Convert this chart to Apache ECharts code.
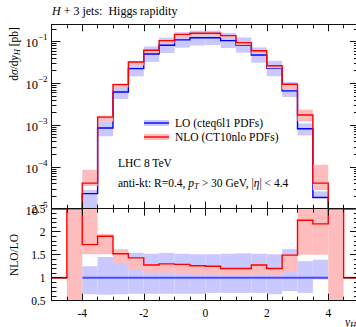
<!DOCTYPE html>
<html><head><meta charset="utf-8">
<script src="https://cdn.jsdelivr.net/npm/echarts@6/dist/echarts.min.js"></script>
<style>html,body{margin:0;padding:0;background:#fff}#c{width:356px;height:327px}</style>
</head><body><div id="c"></div>
<script>
// ---- data (bins of Higgs rapidity y_H) ----
const binEdges = [-5,-4.5,-4,-3.5,-3,-2.5,-2,-1.5,-1,-0.5,0,0.5,1,1.5,2,2.5,3,3.5,4,4.5,5];
// main panel: dsigma/dy_H [pb]
const loValues   = [0,0,2.3e-5,8.5e-4,6.2e-3,0.0224,0.050,0.081,0.109,0.123,0.123,0.105,0.082,0.0476,0.0229,6.6e-3,8.2e-4,1.86e-5,0,0];
const nloValues  = [0,0,4.1e-5,1.55e-3,9.3e-3,0.0324,0.0616,0.105,0.148,0.157,0.157,0.138,0.094,0.060,0.0263,9.5e-3,1.74e-3,4.1e-5,0,0];
const loBandLow  = [null,null,5e-6,5.4e-4,4.2e-3,0.0146,0.0325,0.053,0.071,0.080,0.082,0.070,0.054,0.031,0.0147,4.7e-3,5.7e-4,1.8e-5,null,null];
const loBandHigh = [null,null,2.8e-5,1.23e-3,9.0e-3,0.0345,0.076,0.123,0.166,0.182,0.182,0.160,0.125,0.072,0.0346,0.0107,1.1e-3,2.6e-5,null,null];
const nloBandLow = [null,null,3.5e-5,1.23e-3,8.0e-3,0.0267,0.0536,0.0897,0.125,0.133,0.134,0.122,0.083,0.050,0.0228,7.1e-3,1.23e-3,2.8e-5,null,null];
const nloBandHigh= [null,null,8.5e-5,1.68e-3,9.9e-3,0.0324,0.0623,0.105,0.148,0.158,0.158,0.139,0.095,0.060,0.0265,9.6e-3,2.34e-3,1.12e-4,null,null];
// ratio panel: NLO/LO
const ratioNlo        = [1,Infinity,1.72,1.90,1.52,1.43,1.275,1.30,1.29,1.26,1.25,1.20,1.20,1.275,1.20,1.49,2.25,2.17,Infinity,1];
const ratioEdge       = [1,null,null,null,null,null,null,null,null,null,null,null,null,null,null,null,null,null,null,1];
const ratioLo         = [null,null,1,1,1,1,1,1,1,1,1,1,1,1,1,1,1,1,null,null];
const ratioLoBandLow  = [null,null,0.64,0.63,0.64,0.65,0.65,0.65,0.65,0.65,0.67,0.67,0.67,0.67,0.64,0.71,0.67,0.96,null,null];
const ratioLoBandHigh = [null,null,1.25,1.45,1.50,1.54,1.52,1.54,1.52,1.51,1.51,1.52,1.53,1.52,1.51,1.62,1.36,1.39,null,null];
const ratioNloBandLow = [null,0,1.51,1.51,1.30,1.18,1.11,1.11,1.09,1.07,1.07,1.06,1.06,1.07,1.04,1.12,1.50,1.50,0,null];
const ratioNloBandHigh= [null,Infinity,Infinity,1.95,1.62,1.43,1.29,1.30,1.29,1.27,1.26,1.21,1.21,1.28,1.21,1.50,2.85,6,Infinity,null];
// axes ticks
const xMajor = [-4,-2,0,2,4];
const yMainMajor = [1e-5,1e-4,1e-3,1e-2,1e-1];
const ratioTicks = [0.5,1,1.5,2,2.5];

const FONT = 'Liberation Serif';
const MAIN_MIN = 1e-5, MAIN_MAX = 0.2576, R_MIN = 0.5, R_MAX = 2.5;
const BLUE = '#0000ff', RED = '#ff0000', BLUE_BAND = '#c9c9ff', RED_BAND = '#ffbcbc';

const yMainMinor = [];
for (let e = -5; e <= -1; e++) for (let m = 2; m <= 9; m++) { const v = m * Math.pow(10, e); if (v < MAIN_MAX) yMainMinor.push(v); }

function clampF(v, a, b) { return Math.min(Math.max(v, a), b); }

function bandSeries(lowArr, highArr, color, xi, yi, yMin, yMax) {
  const data = [];
  for (let i = 0; i < lowArr.length; i++) if (lowArr[i] !== null) data.push([binEdges[i], binEdges[i+1], lowArr[i], highArr[i]]);
  return {
    type: 'custom', xAxisIndex: xi, yAxisIndex: yi, data: data, silent: true, animation: false,
    encode: { x: [0, 1], y: [2, 3] },
    renderItem: function (params, api) {
      const p0 = api.coord([api.value(0), clampF(api.value(3), yMin, yMax)]);
      const p1 = api.coord([api.value(1), clampF(api.value(2), yMin, yMax)]);
      return { type: 'rect', shape: { x: p0[0], y: p0[1], width: p1[0] - p0[0], height: p1[1] - p0[1] }, style: { fill: color } };
    }
  };
}

function stepSeries(vals, color, width, xi, yi, yMin, yMax) {
  return {
    type: 'custom', xAxisIndex: xi, yAxisIndex: yi, data: [[0, yMin]], silent: true, animation: false,
    renderItem: function (params, api) {
      const segs = []; let cur = [];
      for (let i = 0; i < vals.length; i++) {
        const v = vals[i];
        if (v === null) { if (cur.length) segs.push(cur); cur = []; continue; }
        const cv = clampF(v, yMin, yMax);
        cur.push(api.coord([binEdges[i], cv]), api.coord([binEdges[i+1], cv]));
      }
      if (cur.length) segs.push(cur);
      return { type: 'group', children: segs.map(function (pts) {
        return { type: 'polyline', shape: { points: pts }, style: { stroke: color, lineWidth: width, fill: null, lineJoin: 'miter' } };
      }) };
    }
  };
}

const lineStyle = { color: '#111', width: 1 };
function xAx(grid, pos, major, showLabels) {
  const ax = {
    type: 'value', gridIndex: grid, position: pos, min: -5, max: 5, interval: 0.5, z: 5,
    axisLine: { show: true, onZero: false, lineStyle: lineStyle },
    axisTick: { show: true, inside: true, length: major ? 7 : 4, lineStyle: lineStyle },
    axisLabel: { show: false }, splitLine: { show: false }, minorTick: { show: false }
  };
  if (major) {
    ax.axisTick.customValues = xMajor;
    ax.axisLine = { show: false, onZero: false };
  }
  if (showLabels) {
    ax.axisLabel = { show: true, customValues: xMajor, margin: 6, color: '#000', fontFamily: FONT, fontSize: 11.5 };
  }
  return ax;
}
function yMainAx(pos, major, showLabels) {
  const ax = {
    type: 'log', logBase: 10, gridIndex: 0, position: pos, min: MAIN_MIN, max: MAIN_MAX, z: 5,
    axisLine: { show: major, onZero: false, lineStyle: lineStyle },
    axisTick: { show: true, inside: true, length: major ? 9 : 5, customValues: major ? yMainMajor : yMainMinor, lineStyle: lineStyle },
    axisLabel: { show: false }, splitLine: { show: false }
  };
  if (showLabels) {
    ax.axisLabel = {
      show: true, customValues: yMainMajor, margin: 4,
      formatter: function (v) { return '{b|10}{s|\u2212' + Math.round(-Math.log10(v)) + '}'; },
      rich: {
        b: { fontFamily: FONT, fontSize: 12.5, color: '#000', verticalAlign: 'bottom', lineHeight: 17 },
        s: { fontFamily: FONT, fontSize: 9, color: '#000', verticalAlign: 'top', lineHeight: 10 }
      }
    };
  }
  return ax;
}
function yRatioAx(pos, showLabels) {
  return {
    type: 'value', gridIndex: 1, position: pos, min: R_MIN, max: R_MAX, interval: 0.5, z: 5,
    axisLine: { show: true, onZero: false, lineStyle: lineStyle },
    axisTick: { show: true, inside: true, length: 9, lineStyle: lineStyle },
    minorTick: { show: true, splitNumber: 5, length: 5, lineStyle: lineStyle },
    axisLabel: { show: showLabels, margin: 6, color: '#000', fontFamily: FONT, fontSize: 11.5,
      customValues: ratioTicks, formatter: function (v) { return String(v); } },
    splitLine: { show: false }
  };
}

const chart = echarts.init(document.getElementById('c'), null, { renderer: 'svg', width: 356, height: 327 });

const rich = {
  i: { fontFamily: FONT, fontSize: 11.5, fontStyle: 'italic', color: '#000', lineHeight: 14 },
  sub: { fontFamily: FONT, fontSize: 8.5, fontStyle: 'italic', color: '#000', verticalAlign: 'bottom', lineHeight: 10 }
};
const richT = {
  i: { fontFamily: FONT, fontSize: 12, fontStyle: 'italic', color: '#000', lineHeight: 14 }
};

const option = {
  backgroundColor: '#fff',
  animation: false,
  grid: [
    { left: 51.5, top: 24.3, width: 307.5, height: 184.4, outerBoundsMode: 'none', containLabel: false },
    { left: 51.5, top: 208.7, width: 307.5, height: 92, outerBoundsMode: 'none', containLabel: false }
  ],
  xAxis: [
    xAx(0, 'bottom', false, false), xAx(0, 'bottom', true, false), xAx(0, 'top', false, false), xAx(0, 'top', true, false),
    xAx(1, 'bottom', false, false), xAx(1, 'bottom', true, true), xAx(1, 'top', false, false), xAx(1, 'top', true, false)
  ],
  yAxis: [
    yMainAx('left', true, true), yMainAx('left', false, false), yMainAx('right', true, false), yMainAx('right', false, false),
    yRatioAx('left', true), yRatioAx('right', false)
  ],
  series: [
    bandSeries(loBandLow, loBandHigh, BLUE_BAND, 0, 0, MAIN_MIN, MAIN_MAX),
    stepSeries(loValues, BLUE, 1.4, 0, 0, MAIN_MIN, MAIN_MAX),
    bandSeries(nloBandLow, nloBandHigh, RED_BAND, 0, 0, MAIN_MIN, MAIN_MAX),
    stepSeries(nloValues, RED, 1.4, 0, 0, MAIN_MIN, MAIN_MAX),
    bandSeries(ratioLoBandLow, ratioLoBandHigh, BLUE_BAND, 4, 4, R_MIN, R_MAX),
    stepSeries(ratioLo, '#4a4aff', 2, 4, 4, R_MIN, R_MAX),
    bandSeries(ratioNloBandLow, ratioNloBandHigh, RED_BAND, 4, 4, R_MIN, R_MAX),
    stepSeries(ratioNlo, RED, 1.4, 4, 4, R_MIN, R_MAX),
    stepSeries(ratioEdge, '#7a1414', 1.6, 4, 4, R_MIN, R_MAX)
  ],
  graphic: [
    { type: 'text', left: 52, top: 5, z: 10, style: { text: '{i|H} + 3 jets:  Higgs rapidity', rich: richT, fontFamily: FONT, fontSize: 12, fill: '#000' } },
    { type: 'text', x: 14, y: 54, rotation: Math.PI / 2, z: 10,
      style: { text: 'd{i|\u03c3}/d{i|y}{sub|H} [pb]', rich: rich, fontFamily: FONT, fontSize: 11.5, fill: '#000', align: 'center', verticalAlign: 'middle' } },
    { type: 'text', x: 14, y: 255, rotation: Math.PI / 2, z: 10,
      style: { text: 'NLO/LO', fontFamily: FONT, fontSize: 11.5, fill: '#000', align: 'center', verticalAlign: 'middle' } },
    { type: 'text', x: 345, y: 322, z: 10,
      style: { text: '{i|y}{sub|H}', rich: rich, fontFamily: FONT, fontSize: 11.5, fill: '#000', align: 'left', verticalAlign: 'middle' } },
    // legend
    { type: 'rect', z: 10, shape: { x: 144, y: 120, width: 25, height: 6 }, style: { fill: BLUE_BAND } },
    { type: 'line', z: 11, shape: { x1: 144, y1: 123, x2: 169, y2: 123 }, style: { stroke: BLUE, lineWidth: 1.4 } },
    { type: 'text', x: 175, y: 123, z: 10, style: { text: 'LO (cteq6l1 PDFs)', fontFamily: FONT, fontSize: 11.5, fill: '#000', verticalAlign: 'middle' } },
    { type: 'rect', z: 10, shape: { x: 144, y: 134, width: 25, height: 6 }, style: { fill: RED_BAND } },
    { type: 'line', z: 11, shape: { x1: 144, y1: 137, x2: 169, y2: 137 }, style: { stroke: RED, lineWidth: 1.4 } },
    { type: 'text', x: 175, y: 137, z: 10, style: { text: 'NLO (CT10nlo PDFs)', fontFamily: FONT, fontSize: 11.5, fill: '#000', verticalAlign: 'middle' } },
    // annotations
    { type: 'text', x: 118, y: 163, z: 10, style: { text: 'LHC 8 TeV', fontFamily: FONT, fontSize: 11.5, fill: '#000', verticalAlign: 'middle' } },
    { type: 'text', x: 118, y: 183, z: 10,
      style: { text: 'anti-kt: R=0.4, {i|p}{sub|T} > 30 GeV, |{i|\u03b7}| < 4.4', rich: rich, fontFamily: FONT, fontSize: 11.5, fill: '#000', verticalAlign: 'middle' } }
  ]
};
chart.setOption(option);
</script>
</body></html>
